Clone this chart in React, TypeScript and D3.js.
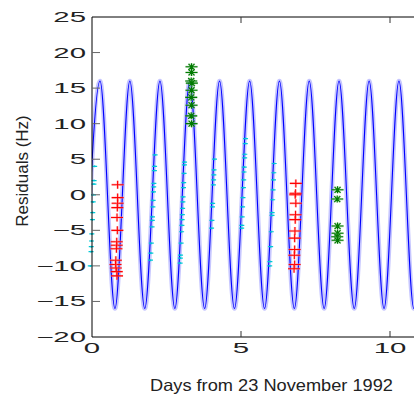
import React from "react";
import * as d3 from "d3";

// ---- data (days, Hz) ----
const peakDays = [0.27, 1.27, 2.28, 3.28, 4.28, 5.29, 6.29, 7.29, 8.29, 9.3, 10.3, 11.3];
const troughDays = [-0.23, 0.77, 1.77, 2.78, 3.78, 4.78, 5.79, 6.79, 7.79, 8.8, 9.8, 10.8, 11.8];
const amplitude = 16;

const cyanDays = [
  0.09, 0.07, 0.065, 0.05, 0.04, 0.025, 0.015, -0.006, -0.017, -0.025, -0.033, -0.058,
  2.117, 2.1, 2.094, 2.076, 2.071, 2.064, 2.052, 2.043, 2.029, 2.024, 2.015, 1.99, 1.974, 1.963,
  3.106, 3.102, 3.09, 3.077, 3.07, 3.057, 3.05, 3.041, 3.032, 3.025, 3.017, 3.007, 2.99, 2.971, 2.966, 2.958,
  4.111, 4.095, 4.088, 4.081, 4.074, 4.048, 4.043, 4.024, 4.013,
  5.152, 5.144, 5.128, 5.123, 5.109, 5.102, 5.091, 5.08, 5.066, 5.053, 5.039, 5.027, 5.023,
  6.114, 6.101, 6.091, 6.077, 6.063, 6.045, 6.041, 6.017, 5.995, 5.97, 5.963,
];
const cyanHz = [
  4, 2, 1.5, 0, -1, -2.5, -3.5, -5.5, -6.5, -7.3, -8, -10,
  5.6, 4.0, 3.4, 1.6, 1.1, 0.4, -0.8, -1.7, -3.1, -3.6, -4.5, -6.8, -8.2, -9.2,
  4.6, 4.2, 3.0, 1.7, 1.0, -0.3, -1.0, -1.9, -2.8, -3.5, -4.3, -5.2, -6.8, -8.5, -8.9, -9.6,
  5.0, 3.5, 2.8, 2.1, 1.4, -1.2, -1.7, -3.6, -4.7,
  7.9, 7.2, 5.7, 5.2, 3.9, 3.2, 2.1, 1.0, -0.4, -1.7, -3.1, -4.3, -4.7,
  4.4, 3.1, 2.1, 0.7, -0.7, -2.5, -2.9, -5.2, -7.3, -9.4, -10.0,
];

const redDays = [
  0.86, 0.86, 0.86, 0.85, 0.84, 0.85, 0.83, 0.83, 0.82, 0.8, 0.79, 0.8, 0.83, 0.84,
  6.84, 6.83, 6.82, 6.84, 6.83, 6.82, 6.81, 6.8, 6.8, 6.79, 6.8, 6.78,
];
const redHz = [
  1.4, -0.4, -1.2, -1.8, -3.2, -5.0, -6.6, -7.1, -7.6, -9.2, -9.8, -10.3, -10.8, -11.4,
  1.6, 0.2, 0.0, -1.2, -2.8, -3.5, -5.1, -6.1, -7.7, -8.5, -9.8, -10.4,
];

const greenDays = [3.34, 3.34, 3.33, 3.35, 3.34, 3.33, 3.34, 3.33, 3.34, 8.24, 8.23, 8.24, 8.24, 8.23, 8.24];
const greenHz = [18.0, 17.2, 16.0, 15.7, 14.7, 13.7, 12.6, 11.1, 10.0, 0.7, -0.6, -4.4, -5.4, -5.9, -6.4];

const yTicks = [25, 20, 15, 10, 5, 0, -5, -10, -15, -20];
const xTicks = [0, 5, 10];

export default function App() {
  const W = 414, H = 394;
  const left = 92, top = 17, bottom = 337, right = 420;
  const x = d3.scaleLinear().domain([0, 10]).range([left, 390]);
  const y = d3.scaleLinear().domain([-20, 25]).range([bottom, top]);

  const extrema = [
    ...peakDays.map((d) => [d, amplitude] as [number, number]),
    ...troughDays.map((d) => [d, -amplitude] as [number, number]),
  ].sort((a, b) => a[0] - b[0]);
  const line = d3
    .line<[number, number]>()
    .x((d) => x(d[0]))
    .y((d) => y(d[1]))
    .curve(d3.curveMonotoneX);
  const path = line(extrema) || "";

  const fmt = (v: number) => (v < 0 ? "\u2212" + Math.abs(v) : String(v));
  const fontTick = "'Liberation Sans', Arial, sans-serif";

  return (
    <svg
      width={W}
      height={H}
      style={{ position: "absolute", left: 0, top: 0, background: "#fff" }}
    >
      <defs>
        <clipPath id="plot">
          <rect x={left} y={top} width={right - left} height={bottom - top} />
        </clipPath>
      </defs>
      <rect x={0} y={0} width={W} height={H} fill="#fff" />
      <g clipPath="url(#plot)">
        <path d={path} fill="none" stroke="#b8b8ff" strokeWidth={4.5} strokeOpacity={0.8} />
        <path d={path} fill="none" stroke="#0000ff" strokeWidth={1.1} />
      </g>
      {/* cyan points */}
      {cyanDays.map((d, i) => (
        <path
          key={"c" + i}
          transform={`translate(${x(d)},${y(cyanHz[i])})`}
          d="M-2.5,0H2.5M0,-1V1"
          stroke="#00c8d6"
          strokeWidth={1.2}
        />
      ))}
      {/* red points */}
      {redDays.map((d, i) => (
        <g key={"r" + i} transform={`translate(${x(d)},${y(redHz[i])})`}>
          <path d="M-6,0H6M0,-4V4" stroke="#ff9090" strokeWidth={2.4} strokeOpacity={0.5} />
          <path d="M-6,0H6M0,-4V4" stroke="#ff0000" strokeWidth={1.1} />
        </g>
      ))}
      {/* green points */}
      {greenDays.map((d, i) => (
        <g key={"g" + i} transform={`translate(${x(d)},${y(greenHz[i])})`}>
          <path
            d="M-6,0H6M0,-3.5V3.5M-3,-3L3,3M-3,3L3,-3"
            stroke="#7fbf7f"
            strokeWidth={2.2}
            strokeOpacity={0.5}
          />
          <path d="M-6,0H6M0,-3.5V3.5M-3,-3L3,3M-3,3L3,-3" stroke="#007a00" strokeWidth={1.1} />
        </g>
      ))}
      {/* frame */}
      <line x1={left} x2={left} y1={top} y2={bottom} stroke="#000" strokeWidth={1} />
      <line x1={left} x2={right} y1={bottom} y2={bottom} stroke="#000" strokeWidth={1} />
      <line x1={left} x2={right} y1={top} y2={top} stroke="#000" strokeWidth={1} />
      {/* y ticks */}
      {yTicks.map((t) => (
        <g key={"yt" + t}>
          {t !== 25 && t !== -20 && (
            <line x1={left} x2={left + 8} y1={y(t)} y2={y(t)} stroke="#666" strokeWidth={1} />
          )}
          <text
            transform={`translate(86,${y(t)}) scale(2.1,1)`}
            textAnchor="end"
            dy="0.36em"
            fontFamily={fontTick}
            fontSize={14}
            fill="#222"
          >
            {fmt(t)}
          </text>
        </g>
      ))}
      {/* x ticks */}
      {xTicks.map((t) => (
        <g key={"xt" + t}>
          {t !== 0 && (
            <>
              <line x1={x(t)} x2={x(t)} y1={bottom} y2={bottom - 6} stroke="#333" />
              <line x1={x(t)} x2={x(t)} y1={top} y2={top + 6} stroke="#333" />
            </>
          )}
          <text
            transform={`translate(${x(t)},353) scale(2.1,1)`}
            textAnchor="middle"
            fontFamily={fontTick}
            fontSize={14}
            fill="#222"
          >
            {fmt(t)}
          </text>
        </g>
      ))}
      <text
        transform="translate(28,171) rotate(-90)"
        textAnchor="middle"
        fontFamily={fontTick}
        fontSize={17}
        fill="#222"
      >
        Residuals (Hz)
      </text>
      <text
        x={271.5}
        y={391}
        textAnchor="middle"
        fontFamily={fontTick}
        fontSize={16.5}
        textLength={243}
        lengthAdjust="spacingAndGlyphs"
        fill="#222"
      >
        Days from 23 November 1992
      </text>
    </svg>
  );
}
